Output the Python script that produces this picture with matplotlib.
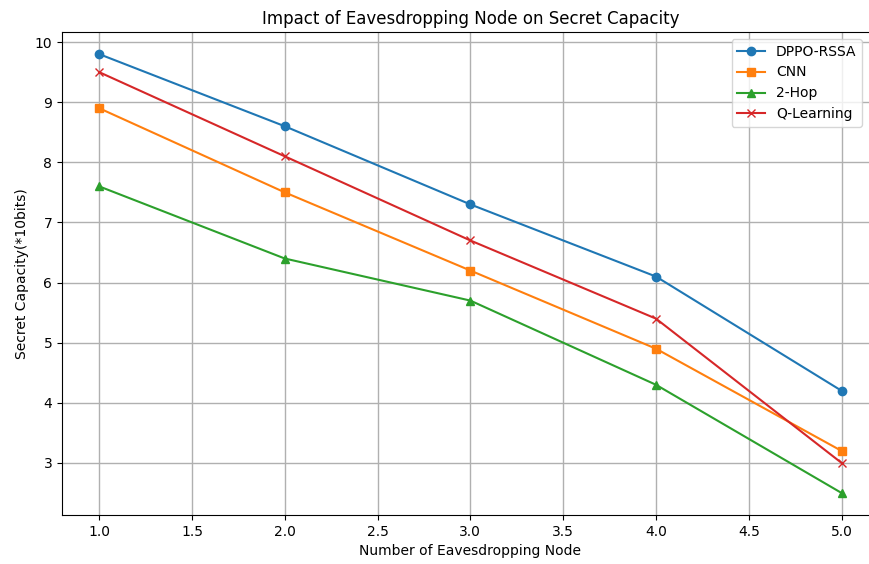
import matplotlib
matplotlib.use("Agg")
import matplotlib.pyplot as plt

nodes = [1.0, 2.0, 3.0, 4.0, 5.0]
dppo_rssa = [9.8, 8.6, 7.3, 6.1, 4.2]
cnn = [8.9, 7.5, 6.2, 4.9, 3.2]
two_hop = [7.6, 6.4, 5.7, 4.3, 2.5]
q_learning = [9.5, 8.1, 6.7, 5.4, 3.0]

fig, ax = plt.subplots(figsize=(8.7, 5.64), dpi=100)
# the source picture is cropped on the right, so the axes run past the edge
fig.subplots_adjust(left=0.0713, right=1.01, top=0.943, bottom=0.087)

ax.plot(nodes, dppo_rssa, marker='o', color='#1f77b4', label='DPPO-RSSA')
ax.plot(nodes, cnn, marker='s', color='#ff7f0e', label='CNN')
ax.plot(nodes, two_hop, marker='^', color='#2ca02c', label='2-Hop')
ax.plot(nodes, q_learning, marker='x', color='#d62728', label='Q-Learning')

ax.set_title('Impact of Eavesdropping Node on Secret Capacity')
ax.set_xlabel('Number of Eavesdropping Node')
ax.set_ylabel('Secret Capacity(*10bits)')
ax.grid(True, color='#b0b0b0', linewidth=1.0)
ax.legend(loc='upper right', bbox_to_anchor=(869 / 870, 1 - 32 / 564),
          bbox_transform=fig.transFigure)

fig.savefig('out.png', dpi=100)
